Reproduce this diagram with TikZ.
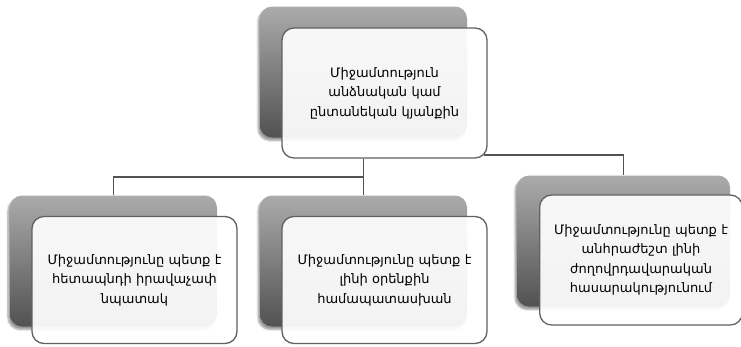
\documentclass[tikz,border=0pt]{standalone}
\usepackage{fontspec}
\newfontfamily\armfont{DejaVu Sans}
\usepackage{tikz}
\usetikzlibrary{positioning,backgrounds,shadows.blur}

\begin{document}
\begin{tikzpicture}[x=1pt,y=-1pt,semithick]
  \tikzstyle{plate}=[rounded corners=12pt,minimum width=207pt,minimum height=131pt,
                     top color=black!33,bottom color=black!68,
                     blur shadow={shadow xshift=-2pt,shadow yshift=-3pt,shadow blur steps=6}]
  \tikzstyle{card}=[rounded corners=12pt,draw=black!62,line width=1.3pt,
                    fill=white,fill opacity=0.93,text opacity=1,
                    minimum width=205pt,minimum height=127pt,
                    align=center,text width=196pt,font=\armfont\fontsize{13}{19.5}\selectfont]
  \tikzstyle{link}=[draw=black!68,line width=1.6pt]

  \useasboundingbox (0,0) rectangle (741,346);

  \node[plate] (topback) at (363.5,72) {};
  \node[card,minimum height=130pt] (topcard) at (384.5,93)
       {Միջամտություն\\անձնական կամ\\ընտանեկան կյանքին\\[4pt]};

  \node[plate] (leftback) at (113.5,261) {};
  \node[card] (leftcard) at (134.5,280)
       {Միջամտությունը պետք է\\հետապնդի իրավաչափ\\նպատակ\\[-2pt]};

  \node[plate] (midback) at (363.5,261) {};
  \node[card] (midcard) at (384.5,280)
       {Միջամտությունը պետք է\\լինի օրենքին\\համապատասխան\\[-2pt]};

  \node[plate,minimum width=213pt] (rightback) at (623.5,241) {};
  \node[card,minimum width=197pt,minimum height=130pt] (rightcard) at (641,260)
       {Միջամտությունը պետք է\\անհրաժեշտ լինի\\ժողովրդավարական\\հասարակությունում};

  \coordinate (hub) at (363.5,177);
  \coordinate (rhub) at (484,155);

  \begin{scope}[on background layer]
    \path[link] (topcard.south -| hub) -- (midback.north)
                (leftback.north) |- (hub)
                (rhub) -| (rightback.north);
  \end{scope}
\end{tikzpicture}
\end{document}
